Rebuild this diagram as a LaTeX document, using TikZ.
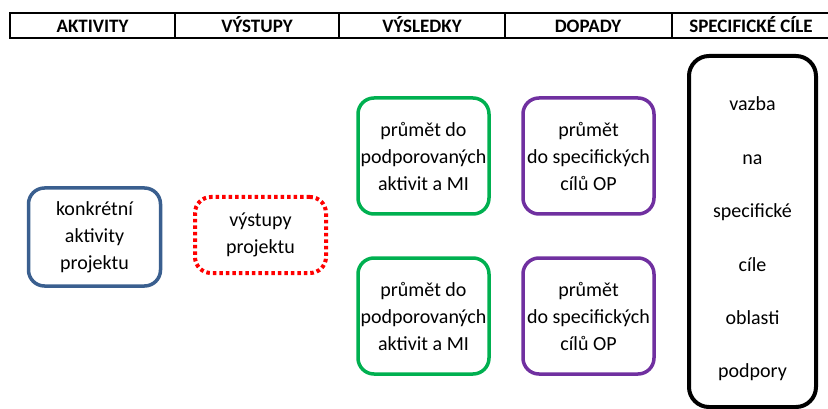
\documentclass[tikz,border=0pt]{standalone}
\usepackage{fontspec}
\setmainfont{Carlito}
\definecolor{bluebox}{HTML}{3A5F8F}
\definecolor{greenbox}{HTML}{00B050}
\definecolor{purplebox}{HTML}{7030A0}
\definecolor{redbox}{HTML}{FF0000}
\tikzset{
  box/.style={draw, line width=3.5pt, rounded corners=16pt, minimum width=130pt,
    align=center, font=\fontsize{20}{27}\selectfont, inner sep=0pt},
  head/.style={font=\bfseries\fontsize{19}{20}\selectfont, inner sep=0pt, anchor=base},
  rule/.style={line width=2pt}
}
\begin{document}
\begin{tikzpicture}[x=1pt,y=-1pt]
\useasboundingbox (0,0) rectangle (828,409);
% header
\draw[rule] (828,13) -- (10,13) -- (10,38) -- (828,38);
\foreach \xx in {175,339,505,672} \draw[rule] (\xx,13) -- (\xx,38);
\node[head] (h1) at (92.5,32.5) {AKTIVITY};
\node[head] (h2) at (257,32.5) {VÝSTUPY};
\node[head] (h3) at (422,32.5) {VÝSLEDKY};
\node[head] (h4) at (588,32.5) {DOPADY};
\node[head] (h5) at (751,32.5) {SPECIFICKÉ CÍLE};
% boxes
\node[box, draw=bluebox, minimum width=132pt, minimum height=98pt] (akt) at (94.5,237) {konkrétní\\aktivity\\projektu};
\node[box, draw=redbox, line width=4pt, dash pattern=on 3.5pt off 3pt, minimum width=131pt, minimum height=76pt] (vys) at (260.5,235) {výstupy\\projektu};
\node[box, draw=greenbox, minimum width=131pt, minimum height=116pt] (g1) at (423.5,156) {průmět do\\podporovaných\\aktivit a MI};
\node[box, draw=greenbox, minimum width=131pt, minimum height=116pt] (g2) at (423.5,316) {průmět do\\podporovaných\\aktivit a MI};
\node[box, draw=purplebox, minimum width=131pt, minimum height=116pt] (p1) at (588.5,156) {průmět\\do specifických\\cílů OP};
\node[box, draw=purplebox, minimum width=131pt, minimum height=116pt] (p2) at (588.5,316) {průmět\\do specifických\\cílů OP};
\node[box, draw=black, line width=4pt, rounded corners=20pt, minimum width=127pt, minimum height=351pt] (spec) at (752.5,231.5) {};
\node[align=center, font=\fontsize{20}{53.4}\selectfont, inner sep=0pt] (spectext) at (752.5,239) {vazba\\na\\specifické\\cíle\\oblasti\\podpory};
\end{tikzpicture}
\end{document}
